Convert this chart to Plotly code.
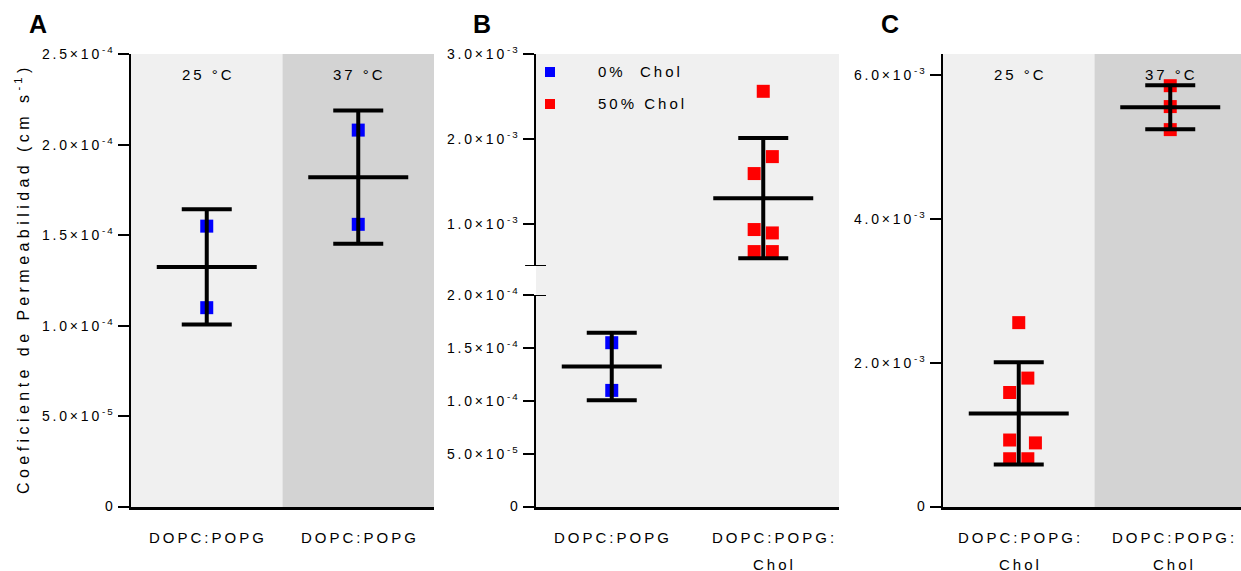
import numpy as np
import plotly.graph_objects as go

# ---------------- data ----------------
# Panel A: DOPC:POPG at 25 and 37 C
dopc_popg_25 = [1.55e-4, 1.10e-4]
dopc_popg_37 = [2.08e-4, 1.56e-4]
# Panel B/C: DOPC:POPG:Chol (50% Chol) at 25 C, and at 37 C
chol_25 = [2.56e-3, 1.79e-3, 1.59e-3, 0.93e-3, 0.89e-3, 0.67e-3, 0.67e-3]
chol_37 = [5.85e-3, 5.56e-3, 5.24e-3]

cats_A = ["DOPC:POPG", "DOPC:POPG"]
cats_B = ["DOPC:POPG", "DOPC:POPG:|Chol"]
cats_C = ["DOPC:POPG:|Chol", "DOPC:POPG:|Chol"]
temps = ["25 °C", "37 °C"]
legend_names = ["0%  Chol", "50% Chol"]

ticks_A = [0, 5e-5, 1e-4, 1.5e-4, 2e-4, 2.5e-4]
ticks_B_up = [1e-3, 2e-3, 3e-3]
ticks_B_lo = [0, 5e-5, 1e-4, 1.5e-4, 2e-4]
ticks_C = [0, 2e-3, 4e-3, 6e-3]

# horizontal scatter of the 7 replicate points (category units)
jit_B = [0, 0.06, -0.06, -0.06, 0.06, -0.06, 0.06]
jit_C = [0, 0.06, -0.06, -0.06, 0.11, -0.06, 0.06]

# ---------------- helpers ----------------
TS = "\u2009"
FONT = "Arial, Liberation Sans, sans-serif"


def sp(s, gap=TS):
    return gap.join(s)


def sci(v):
    if v == 0:
        return "0"
    e = int(np.floor(np.log10(abs(v)) + 1e-9))
    m = v / 10 ** e
    return sp(f"{m:.1f}×10") + TS + "<sup>" + sp(f"-{abs(e)}") + "</sup>"


W, H = 1241, 571


def px(x):
    return x / W


def py(y):
    return (H - y) / H


BLUE = "#0000ff"
RED = "#ff0000"

fig = go.Figure()


def add_group(xa, ya, xc, vals, color, jitter=None):
    vals = np.asarray(vals)
    if jitter is None:
        jitter = [0] * len(vals)
    fig.add_trace(go.Scatter(
        x=[xc + j for j in jitter], y=vals, mode="markers", xaxis=xa, yaxis=ya,
        marker=dict(symbol="square", size=13, color=color, line=dict(width=0)),
        showlegend=False, hoverinfo="y"))


def add_stats(xa, ya, xc, vals):
    vals = np.asarray(vals)
    m = vals.mean()
    s = vals.std(ddof=1)
    fig.add_trace(go.Scatter(
        x=[xc], y=[m], mode="markers", xaxis=xa, yaxis=ya,
        marker=dict(size=1, color="rgba(0,0,0,0)"),
        error_y=dict(type="data", array=[s], visible=True, color="black",
                     thickness=4, width=25),
        showlegend=False, hoverinfo="skip"))
    fig.add_trace(go.Scatter(
        x=[xc - 0.33, xc + 0.33], y=[m, m], mode="lines", xaxis=xa, yaxis=ya,
        line=dict(color="black", width=4), showlegend=False, hoverinfo="skip"))


# Panel A
add_group("x", "y", 0, dopc_popg_25, BLUE)
add_group("x", "y", 1, dopc_popg_37, BLUE)
add_stats("x", "y", 0, dopc_popg_25)
add_stats("x", "y", 1, dopc_popg_37)
# Panel B
add_group("x2", "y3", 0, dopc_popg_25, BLUE)
add_group("x2", "y2", 1, chol_25, RED, jit_B)
add_stats("x2", "y3", 0, dopc_popg_25)
add_stats("x2", "y2", 1, chol_25)
# Panel C
add_group("x3", "y4", 0, chol_25, RED, jit_C)
add_group("x3", "y4", 1, chol_37, RED)
add_stats("x3", "y4", 0, chol_25)
add_stats("x3", "y4", 1, chol_37)

# ---------------- axes ----------------
y_dom = [py(507), py(54)]
xdoms = {"A": [px(131), px(434)], "B": [px(536), px(839)], "C": [px(943), 1.0]}

xcommon = dict(showgrid=False, zeroline=False, showline=True, linecolor="black",
               linewidth=3, ticks="", showticklabels=False, fixedrange=True)
ycommon = dict(showgrid=False, zeroline=False, showline=True, linecolor="black",
               linewidth=2, ticks="outside", ticklen=11, tickwidth=2,
               tickcolor="black", showticklabels=False,
               tickmode="array", fixedrange=True, automargin=False)

fig.update_layout(
    xaxis=dict(domain=xdoms["A"], range=[-0.5, 1.5], anchor="y", **xcommon),
    xaxis2=dict(domain=xdoms["B"], range=[-0.5, 1.5], anchor="y3", **xcommon),
    xaxis3=dict(domain=xdoms["C"], range=[-0.5, -0.5 + (W - 943) / 151.5],
                anchor="y4", **xcommon),
    yaxis=dict(domain=y_dom, range=[0, 2.5e-4], anchor="x", tickvals=ticks_A, **ycommon),
    yaxis2=dict(domain=[py(266), py(54)], range=[0.5e-3, 3.0e-3], anchor="x2",
                tickvals=ticks_B_up, **ycommon),
    yaxis3=dict(domain=[py(507), py(295)], range=[0, 2.0e-4], anchor="x2",
                tickvals=ticks_B_lo, **ycommon),
    yaxis4=dict(domain=y_dom, range=[0, 6.29e-3], anchor="x3", tickvals=ticks_C,
                **ycommon),
)

# ---------------- backgrounds & axis breaks ----------------
LIGHT, DARK = "#f0f0f0", "#d3d3d3"
shapes = []
for xr in ["x", "x3"]:
    shapes.append(dict(type="rect", xref=xr, yref="paper", x0=-0.5, x1=0.5,
                       y0=y_dom[0], y1=y_dom[1], fillcolor=LIGHT, line=dict(width=0),
                       layer="below"))
    shapes.append(dict(type="rect", xref=xr, yref="paper", x0=0.5, x1=1.5,
                       y0=y_dom[0], y1=y_dom[1], fillcolor=DARK, line=dict(width=0),
                       layer="below"))
shapes.append(dict(type="rect", xref="x2", yref="paper", x0=-0.5, x1=1.5,
                   y0=y_dom[0], y1=y_dom[1], fillcolor=LIGHT, line=dict(width=0),
                   layer="below"))
# break marks on the split axis of panel B
shapes.append(dict(type="line", xref="x2 domain", yref="y2", x0=-0.036, x1=0.033,
                   y0=0.5e-3, y1=0.5e-3, line=dict(color="black", width=2)))
shapes.append(dict(type="line", xref="x2 domain", yref="y3", x0=-0.036, x1=0.033,
                   y0=2.0e-4, y1=2.0e-4, line=dict(color="black", width=2)))
# legend symbols (panel B)
for yc, col in [(72, BLUE), (104, RED)]:
    shapes.append(dict(type="rect", xref="paper", yref="paper",
                       x0=px(545), x1=px(555), y0=py(yc + 5), y1=py(yc - 5),
                       fillcolor=col, line=dict(width=0)))
fig.update_layout(shapes=shapes)

# ---------------- text ----------------
ann = []
# y tick labels, placed on each axis's own scale
tick_font = dict(family=FONT, size=14, color="black")
for xr, yr, vals in [("x", "y", ticks_A), ("x2", "y2", ticks_B_up),
                     ("x2", "y3", ticks_B_lo), ("x3", "y4", ticks_C)]:
    for v in vals:
        ann.append(dict(x=0, xref=xr + " domain", y=v, yref=yr, text=sci(v),
                        showarrow=False, font=tick_font, xanchor="right",
                        yanchor="middle", xshift=-16, yshift=1))
lab_font = dict(family=FONT, size=15, color="black")
for xr, cats, shifts in [("x", cats_A, [0, 0]), ("x2", cats_B, [0, 10]),
                         ("x3", cats_C, [0, 3])]:
    for i, c in enumerate(cats):
        lines = c.split("|")
        for k, t in enumerate(lines):
            ann.append(dict(x=i, xref=xr, y=py(537 + 27 * k), yref="paper",
                            text=sp(t), showarrow=False, font=lab_font,
                            xanchor="center", yanchor="middle", xshift=shifts[i]))
for xr in ["x", "x3"]:
    for i, t in enumerate(temps):
        ann.append(dict(x=i, xref=xr, y=py(74), yref="paper", text=sp(t),
                        showarrow=False, font=dict(family=FONT, size=15, color="black"),
                        xanchor="center", yanchor="middle"))
for name, yc in zip(legend_names, [72, 104]):
    ann.append(dict(x=px(596), xref="paper", y=py(yc), yref="paper", text=sp(name),
                    showarrow=False, font=dict(family=FONT, size=15, color="black"),
                    xanchor="left", yanchor="middle"))
for letter, xc in [("A", 38), ("B", 482), ("C", 890)]:
    ann.append(dict(x=px(xc), xref="paper", y=py(24), yref="paper",
                    text="<b>" + letter + "</b>", showarrow=False,
                    font=dict(family=FONT, size=25, color="black"),
                    xanchor="center", yanchor="middle"))
ann.append(dict(x=px(22), xref="paper", y=py(281), yref="paper",
                text=sp("Coeficiente de Permeabilidad (cm s", " ") + " <sup>" + sp("-1", " ")
                + "</sup> )",
                textangle=-90, showarrow=False,
                font=dict(family=FONT, size=16, color="black"),
                xanchor="center", yanchor="middle"))
fig.update_layout(annotations=ann)

fig.update_layout(width=W, height=H,
                  margin=dict(l=0, r=0, t=0, b=0, pad=0, autoexpand=False),
                  paper_bgcolor="white", plot_bgcolor="rgba(0,0,0,0)",
                  showlegend=False)

fig.write_html("out.html")
